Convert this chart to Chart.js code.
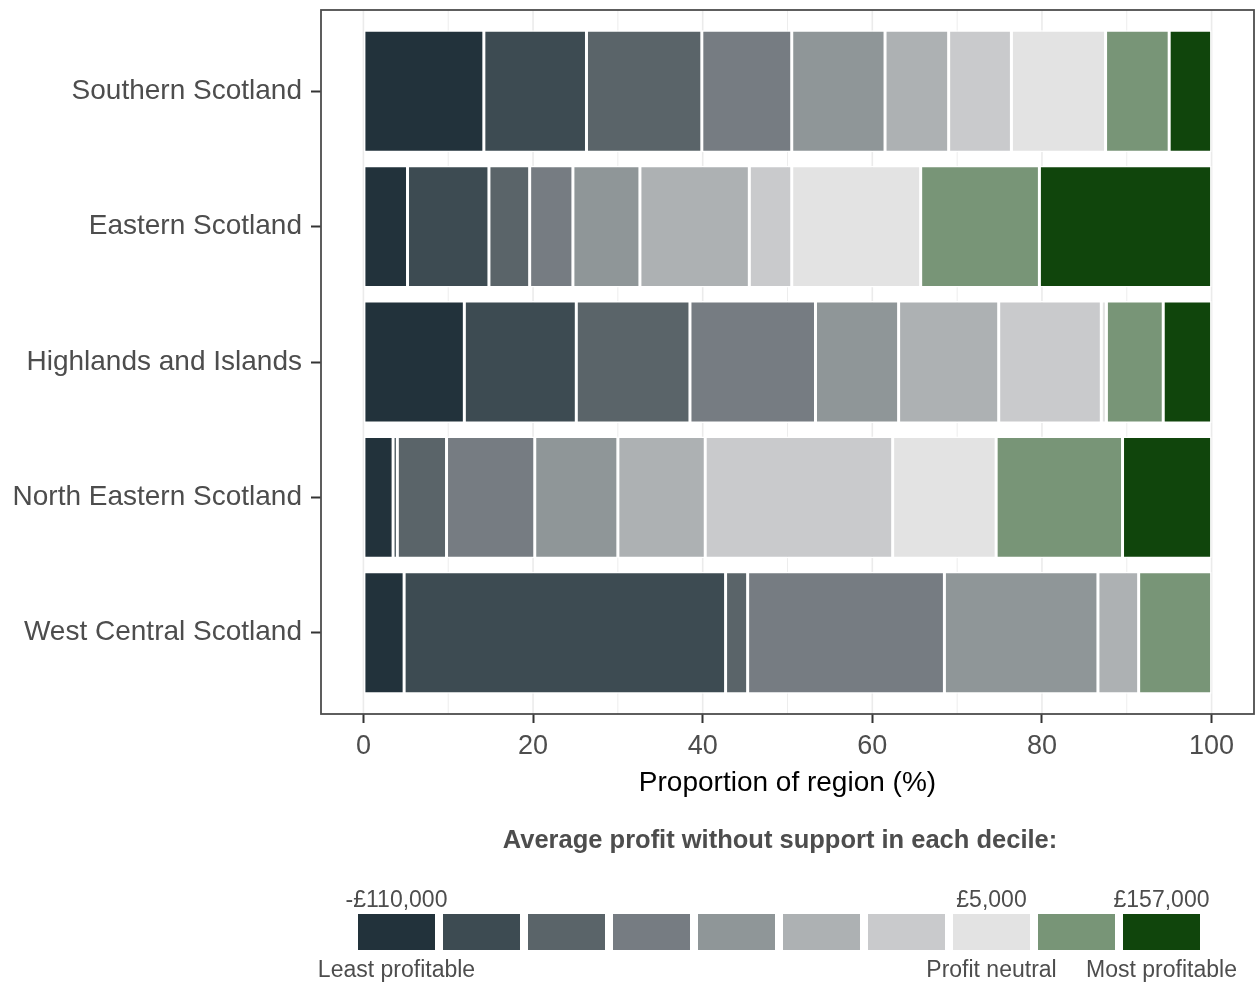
<!DOCTYPE html>
<html>
<head>
<meta charset="utf-8">
<script src="https://cdn.jsdelivr.net/npm/chart.js@4"></script>
<style>
  body { margin: 0; background: #fff; }
  #wrap { width: 1258px; height: 983px; }
</style>
</head>
<body>
<div id="wrap"><canvas id="graph"></canvas></div>
<script>
// regions, top to bottom
const regions = ["Southern Scotland", "Eastern Scotland", "Highlands and Islands",
                 "North Eastern Scotland", "West Central Scotland"];

// share of each region's farms (%) in deciles 1 (least) .. 10 (most profitable)
const southern     = [14.2, 12.1, 13.6, 10.6, 11.0, 7.5, 7.4, 11.1, 7.5, 5.0];
const eastern      = [5.2, 9.6, 4.8, 5.1, 7.9, 12.9, 5.0, 15.2, 14.0, 20.3];
const highlands    = [11.9, 13.2, 13.4, 14.8, 9.8, 11.8, 12.1, 0.6, 6.7, 5.7];
const northEastern = [3.5, 0.5, 5.8, 10.4, 9.8, 10.3, 22.1, 12.2, 14.9, 10.5];
const westCentral  = [4.8, 37.9, 2.6, 23.2, 18.1, 4.8, 0, 0, 8.6, 0];

const decileColours = ["#22323b", "#3d4b52", "#5a6469", "#767c82", "#8f9698",
                       "#adb1b3", "#c9cacc", "#e3e3e3", "#789577", "#10450c"];

const xTicks = [0, 10, 20, 30, 40, 50, 60, 70, 80, 90, 100];

const legendTitle = "Average profit without support in each decile:";
const legendTop = ["-£110,000", "", "", "", "", "", "", "£5,000", "", "£157,000"];
const legendBottom = ["Least profitable", "", "", "", "", "", "", "Profit neutral", "", "Most profitable"];

const font = "'Liberation Sans', Arial, sans-serif";
const rows = [southern, eastern, highlands, northEastern, westCentral];

const datasets = decileColours.map((col, i) => ({
    label: "Decile " + (i + 1),
    data: rows.map((r, j) => ({ x: r[i], y: j })),
    backgroundColor: col,
    borderColor: "#ffffff",
    borderWidth: 1.5,
    borderSkipped: false,
    categoryPercentage: 1,
    barPercentage: 0.9
}));

const panelAndLegend = {
    id: "panelAndLegend",
    beforeDatasetsDraw(chart) {
        const { ctx, chartArea: a, scales } = chart;
        ctx.save();
        // vertical grid lines (major + minor)
        xTicks.forEach(v => {
            const x = scales.x.getPixelForValue(v);
            ctx.strokeStyle = "#ebebeb";
            ctx.lineWidth = v % 20 === 0 ? 1.6 : 0.9;
            ctx.beginPath();
            ctx.moveTo(x, a.top);
            ctx.lineTo(x, a.bottom);
            ctx.stroke();
        });
        ctx.restore();
    },
    afterDraw(chart) {
        const { ctx, chartArea: a } = chart;
        ctx.save();
        ctx.strokeStyle = "#4d4d4d";
        ctx.lineWidth = 1.8;
        ctx.strokeRect(a.left, a.top, a.right - a.left, a.bottom - a.top);

        // legend
        ctx.fillStyle = "#4d4d4d";
        ctx.textAlign = "center";
        ctx.textBaseline = "middle";
        ctx.font = "bold 25.5px " + font;
        ctx.fillText(legendTitle, 780, 841);

        const x0 = 358, w = 77, step = 85, y0 = 914, h = 36;
        ctx.font = "23px " + font;
        decileColours.forEach((col, i) => {
            const x = x0 + i * step;
            ctx.fillStyle = col;
            ctx.fillRect(x, y0, w, h);
            ctx.fillStyle = "#4d4d4d";
            if (legendTop[i]) ctx.fillText(legendTop[i], x + w / 2, 901);
            if (legendBottom[i]) ctx.fillText(legendBottom[i], x + w / 2, 971);
        });
        ctx.restore();
    }
};

new Chart(document.getElementById("graph"), {
    type: "bar",
    data: { datasets: datasets },
    plugins: [panelAndLegend],
    options: {
        indexAxis: "y",
        responsive: true,
        maintainAspectRatio: false,
        animation: false,
        layout: { padding: { top: 10, right: 4, left: 0, bottom: 183 } },
        plugins: { legend: { display: false }, tooltip: { enabled: false } },
        scales: {
            x: {
                type: "linear",
                stacked: true,
                min: -5,
                max: 105,
                afterBuildTicks: s => { s.ticks = xTicks.map(v => ({ value: v })); },
                afterFit: s => { s.height = 86; },
                border: { display: false },
                grid: {
                    drawOnChartArea: false,
                    tickLength: 9,
                    tickWidth: 2,
                    tickColor: c => (c.tick && c.tick.value % 20 === 0) ? "#333333" : "rgba(0,0,0,0)"
                },
                ticks: {
                    padding: 7,
                    color: "#4d4d4d",
                    font: { family: font, size: 27 },
                    callback: v => (v % 20 === 0 ? v : "")
                },
                title: {
                    display: true,
                    text: "Proportion of region (%)",
                    color: "#000000",
                    font: { family: font, size: 28 },
                    padding: { top: 0, bottom: 0 }
                }
            },
            y: {
                type: "linear",
                stacked: true,
                reverse: true,
                offset: false,
                min: -0.6,
                max: 4.6,
                afterBuildTicks: s => { s.ticks = regions.map((r, i) => ({ value: i })); },
                afterFit: s => { s.width = 321; s.paddingTop = 0; s.paddingBottom = 0; },
                border: { display: false },
                grid: {
                    offset: false,
                    drawOnChartArea: false,
                    tickLength: 10,
                    tickWidth: 2,
                    tickColor: "#333333"
                },
                ticks: {
                    padding: 9,
                    color: "#4d4d4d",
                    font: { family: font, size: 28 },
                    callback: v => regions[v]
                }
            }
        }
    }
});
</script>
</body>
</html>
